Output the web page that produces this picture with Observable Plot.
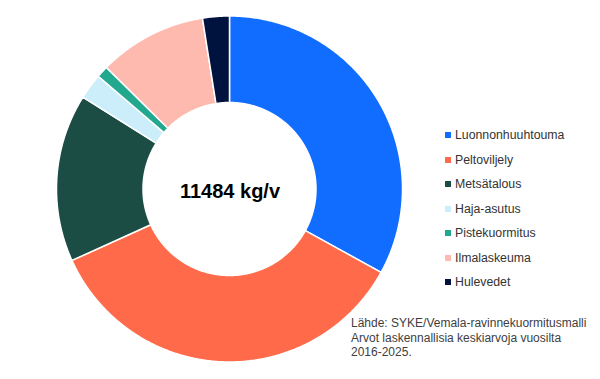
<!DOCTYPE html>
<html>
<head>
<meta charset="utf-8">
<script src="https://cdn.jsdelivr.net/npm/d3@7"></script>
<script src="https://cdn.jsdelivr.net/npm/@observablehq/plot@0.6"></script>
<style>
  html, body { margin: 0; padding: 0; background: #fff; }
  body { font-family: "Liberation Sans", Arial, sans-serif; }
  #wrap { position: relative; width: 600px; height: 379px; overflow: hidden; }
  #legend { position: absolute; left: 445px; top: 122.75px; font-size: 12.3px; color: #333; }
  #legend .row { display: flex; align-items: center; height: 24.5px; white-space: nowrap; }
  #legend .sw { width: 6px; height: 6px; margin-right: 4px; flex-shrink: 0; }
  #caption { position: absolute; left: 351px; top: 316px; font-size: 12px; line-height: 14.7px; color: #404040; }
</style>
</head>
<body>
<div id="wrap"></div>
<script>
const categories = ["Luonnonhuuhtouma", "Peltoviljely", "Metsätalous", "Haja-asutus", "Pistekuormitus", "Ilmalaskeuma", "Hulevedet"];
const values = [3790, 4045, 1800, 276, 126, 1160, 287];
const colors = ["#116DFF", "#FF6B4A", "#1B4D44", "#CCEEFB", "#22A88F", "#FFBAB0", "#00133F"];
const centerLabel = "11484 kg/v";
const captionLines = [
  "Lähde: SYKE/Vemala-ravinnekuormitusmalli",
  "Arvot laskennallisia keskiarvoja vuosilta",
  "2016-2025."
];
const innerRatio = 0.5;

// Build annular sectors from pie angles (clockwise from 12 o'clock)
const pie = d3.pie().sort(null).value(d => d.value);
const arcs = pie(categories.map((c, i) => ({cat: c, value: values[i]})));
const rows = [];
for (const a of arcs) {
  const n = Math.max(2, Math.ceil((a.endAngle - a.startAngle) / (Math.PI / 360)));
  for (let k = 0; k <= n; k++) {
    const t = a.startAngle + (a.endAngle - a.startAngle) * k / n;
    rows.push({
      cat: a.data.cat,
      x1: Math.sin(t), y1: Math.cos(t),
      x2: innerRatio * Math.sin(t), y2: innerRatio * Math.cos(t)
    });
  }
}

const plot = Plot.plot({
  width: 600,
  height: 379,
  marginLeft: 56.5,
  marginRight: 197.5,
  marginTop: 16,
  marginBottom: 17,
  style: {fontFamily: "'Liberation Sans', Arial, sans-serif", background: "transparent"},
  x: {domain: [-1, 1], axis: null},
  y: {domain: [-1, 1], axis: null},
  color: {domain: categories, range: colors},
  marks: [
    Plot.area(rows, {x1: "x1", y1: "y1", x2: "x2", y2: "y2", z: "cat", fill: "cat", stroke: "white", strokeWidth: 1.5, curve: "linear"}),
    Plot.text([centerLabel], {x: () => 0, y: () => 0, text: d => d, fontSize: 20, fontWeight: "bold", fill: "#000", dy: 2})
  ]
});

const wrap = document.getElementById("wrap");
wrap.appendChild(plot);

const color = plot.scale("color");
const legend = document.createElement("div");
legend.id = "legend";
categories.forEach(c => {
  const row = document.createElement("div");
  row.className = "row";
  const sw = document.createElement("span");
  sw.className = "sw";
  sw.style.background = color.apply(c);
  const lab = document.createElement("span");
  lab.textContent = c;
  row.appendChild(sw);
  row.appendChild(lab);
  legend.appendChild(row);
});
wrap.appendChild(legend);

const cap = document.createElement("div");
cap.id = "caption";
captionLines.forEach(l => {
  const d = document.createElement("div");
  d.textContent = l;
  cap.appendChild(d);
});
wrap.appendChild(cap);
</script>
</body>
</html>
